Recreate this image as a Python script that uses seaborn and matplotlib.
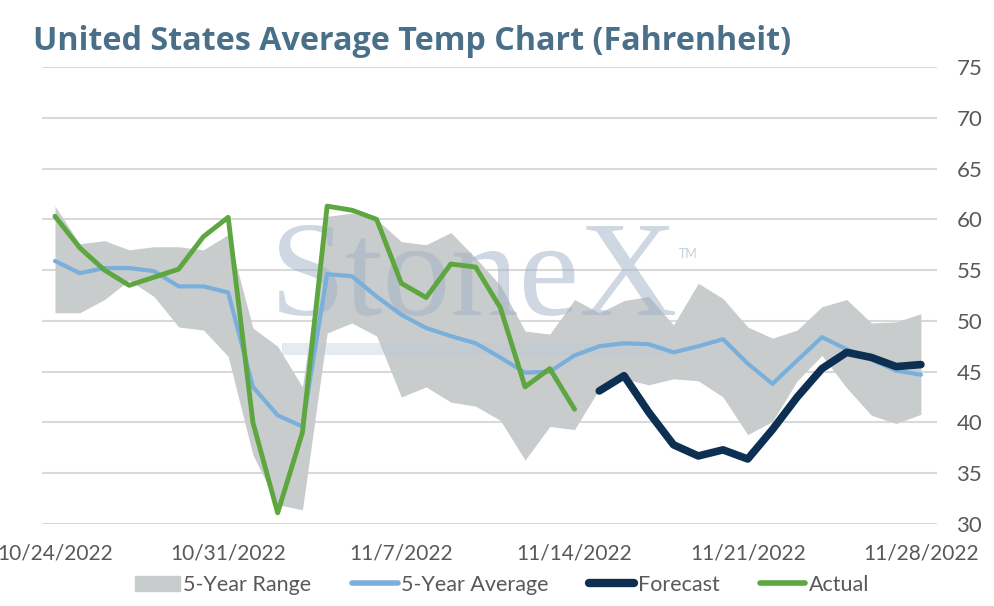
import seaborn as sns
import matplotlib.pyplot as plt
import matplotlib.patches as mpatches
from matplotlib.lines import Line2D
import pandas as pd
import numpy as np

# daily values, 10/24/2022 .. 11/28/2022
dates = pd.date_range("2022-10-24", "2022-11-28", freq="D")

range_upper = [61.3, 57.6, 57.9, 57.0, 57.3, 57.3, 57.0, 58.5, 49.3, 47.5, 43.5, 60.3,
               60.6, 60.0, 57.8, 57.5, 58.7, 56.2, 53.5, 49.0, 48.7, 52.1, 50.8, 52.0,
               52.4, 49.6, 53.7, 52.2, 49.4, 48.3, 49.1, 51.4, 52.1, 49.8, 49.9, 50.7]
range_lower = [50.8, 50.8, 52.1, 54.0, 52.4, 49.4, 49.1, 46.5, 36.8, 31.9, 31.4, 48.8,
               49.8, 48.5, 42.5, 43.5, 42.0, 41.6, 40.2, 36.3, 39.6, 39.3, 43.3, 44.3,
               43.7, 44.3, 44.1, 42.5, 38.8, 40.1, 44.1, 46.6, 43.4, 40.7, 39.9, 40.8]
avg_5yr = [55.9, 54.7, 55.2, 55.2, 54.9, 53.4, 53.4, 52.8, 43.5, 40.7, 39.6, 54.6,
           54.4, 52.4, 50.6, 49.3, 48.5, 47.8, 46.4, 44.9, 45.0, 46.6, 47.5, 47.8,
           47.7, 46.9, 47.5, 48.2, 45.8, 43.8, 46.1, 48.4, 47.2, 46.2, 45.1, 44.7]
actual = [60.3, 57.2, 55.0, 53.5, 54.3, 55.1, 58.3, 60.2, 40.0, 31.1, 39.0, 61.3,
          60.9, 60.0, 53.7, 52.3, 55.6, 55.3, 51.3, 43.5, 45.3, 41.3]
forecast = [43.1, 44.6, 41.0, 37.8, 36.7, 37.3, 36.4, 39.3, 42.5, 45.3, 46.9, 46.4,
            45.5, 45.7]

tick_labels = ["10/24/2022", "10/31/2022", "11/7/2022", "11/14/2022", "11/21/2022", "11/28/2022"]

df = pd.DataFrame({"day": np.arange(len(dates)), "upper": range_upper,
                   "lower": range_lower, "avg": avg_5yr})
df["actual"] = actual + [np.nan] * (len(dates) - len(actual))
df["forecast"] = [np.nan] * (len(dates) - len(forecast)) + forecast

c_range = "#c9cccd"
c_avg = "#7aafdb"
c_fc = "#0c2f52"
c_act = "#5ea640"
c_txt = "#595959"

sns.set_style("white")
plt.rcParams['font.family'] = ['Lato', 'DejaVu Sans']

fig = plt.figure(figsize=(9.94, 6.06), dpi=100)
ax = fig.add_axes([42/994, 82/606, 895/994, 457/606])

ax.fill_between(df["day"], df["lower"], df["upper"], color=c_range, lw=0, zorder=1)

# watermark
ax.text(0.483, 0.457, "StoneX", transform=ax.transAxes, ha="center", va="baseline",
        fontsize=98, family="Liberation Serif", color="#9fb1c6", alpha=0.5, zorder=2)
ax.text(0.722, 0.59, "TM", transform=ax.transAxes, ha="center", va="center",
        fontsize=9, color="#9fb1c6", alpha=0.6, zorder=2)
ax.add_patch(mpatches.Rectangle((0.268, 0.37), 0.436, 0.026, transform=ax.transAxes,
                                color="#b9c8d8", alpha=0.35, lw=0, zorder=2))

sns.lineplot(data=df, x="day", y="avg", color=c_avg, lw=3, ax=ax, zorder=3)
sns.lineplot(data=df, x="day", y="forecast", color=c_fc, lw=5.5, ax=ax, zorder=4,
             solid_capstyle="round")
sns.lineplot(data=df, x="day", y="actual", color=c_act, lw=3.5, ax=ax, zorder=5)

ax.set_xlim(-0.525, 35.65)
ax.set_ylim(30, 75)
ax.set_yticks(range(30, 80, 5))
ax.set_xticks(range(0, 36, 7))
ax.set_xticklabels(tick_labels)
ax.yaxis.tick_right()
ax.tick_params(axis="y", length=0, pad=14, labelsize=16, labelcolor=c_txt)
ax.tick_params(axis="x", length=0, pad=14, labelsize=15, labelcolor=c_txt)
ax.set_xlabel("")
ax.set_ylabel("")
ax.grid(axis="y", color="#d9d9d9", lw=1.5)
ax.set_axisbelow(True)
sns.despine(ax=ax, left=True, bottom=True, right=True, top=True)

fig.text(0.033, 0.917, "United States Average Temp Chart (Fahrenheit)",
         family=["Open Sans", "DejaVu Sans"], fontweight="bold", fontsize=23.2, color="#4a7089")

handles = [mpatches.Patch(color=c_range, label="5-Year Range"),
           Line2D([], [], color=c_avg, lw=4, solid_capstyle="round", label="5-Year Average"),
           Line2D([], [], color=c_fc, lw=6, solid_capstyle="round", label="Forecast"),
           Line2D([], [], color=c_act, lw=4, solid_capstyle="round", label="Actual")]
fig.legend(handles=handles, loc="center", bbox_to_anchor=(0.505, 0.035), ncol=4,
           frameon=False, fontsize=15.5, labelcolor=c_txt, handlelength=2.1,
           handletextpad=0.15, columnspacing=1.9)

plt.savefig("out.png", dpi=100)
